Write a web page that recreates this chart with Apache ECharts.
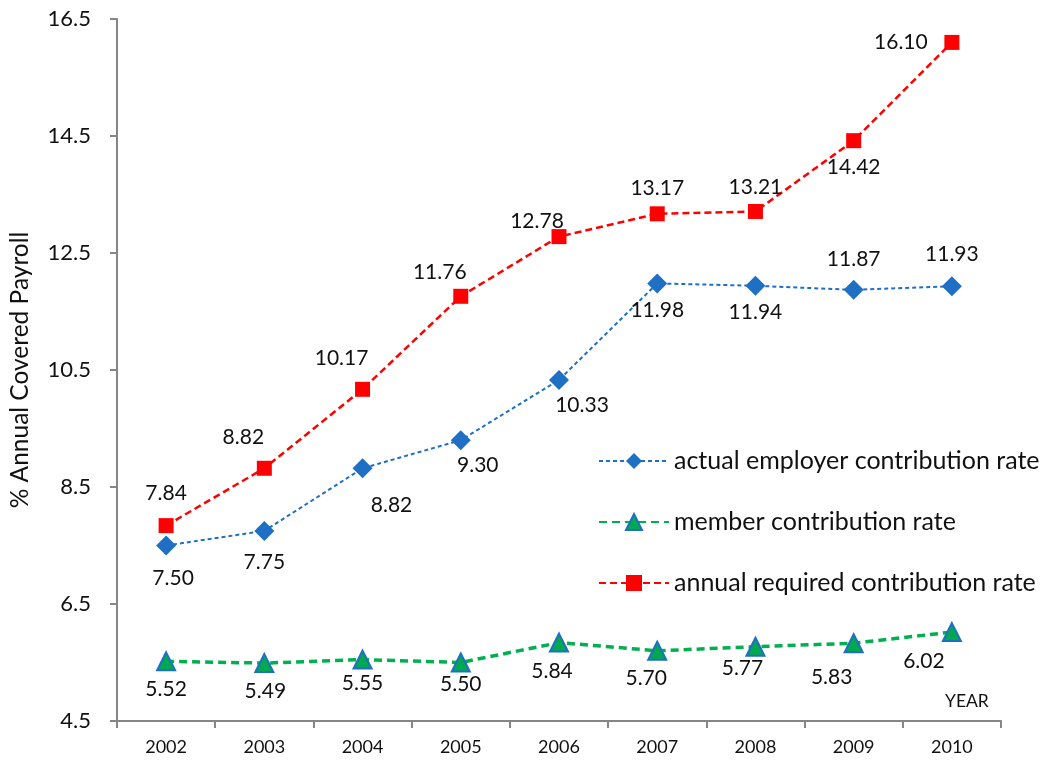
<!DOCTYPE html>
<html>
<head>
<meta charset="utf-8">
<script src="https://cdn.jsdelivr.net/npm/echarts@6/dist/echarts.min.js"></script>
<style>html,body{margin:0;padding:0;background:#fff}#c{width:1047px;height:763px}</style>
</head>
<body>
<div id="c"></div>
<script>
const years = ['2002','2003','2004','2005','2006','2007','2008','2009','2010'];
const employerRate = [7.50, 7.75, 8.82, 9.30, 10.33, 11.98, 11.94, 11.87, 11.93];
const memberRate = [5.52, 5.49, 5.55, 5.50, 5.84, 5.70, 5.77, 5.83, 6.02];
const requiredRate = [7.84, 8.82, 10.17, 11.76, 12.78, 13.17, 13.21, 14.42, 16.10];
const seriesNames = ['actual employer contribution rate', 'member contribution rate', 'annual required contribution rate'];
const yTicks = { min: 4.5, max: 16.5, step: 2 };

// label placement offsets (style only)
const employerLabelOffsets = [[7,33],[0,31],[29,37],[17,25],[23,25],[0,27],[0,26],[0,-31],[0,-32]];
const memberLabelOffsets = [[0,28],[1,28],[0,24],[0,22],[-7,29],[-11,27],[-13,22],[-22,34],[-28,29]];
const requiredLabelOffsets = [[0,-32],[-21,-31],[-21,-31],[-21,-24],[-22,-15],[0,-26],[0,-24],[0,27],[-51,0]];

const FONT = 'Lato, "Open Sans", sans-serif';
function build(values, offsets) {
  return values.map((v, i) => ({
    value: v,
    label: { offset: offsets[i] }
  }));
}
const labelBase = {
  show: true, position: 'inside', color: '#111', fontSize: 21, fontFamily: FONT,
  formatter: p => Number(p.value).toFixed(2)
};

const chart = echarts.init(document.getElementById('c'), null, { renderer: 'canvas' });
chart.setOption({
  animation: false,
  backgroundColor: '#fff',
  grid: { left: 117, right: 46, top: 19, bottom: 42, containLabel: false },
  legend: {
    orient: 'vertical', left: 598, top: 448, padding: 0,
    itemWidth: 70, itemHeight: 20, itemGap: 35, itemTextGap: 9,
    textStyle: { fontSize: 25, lineHeight: 26, fontFamily: FONT, color: '#111' },
    data: seriesNames
  },
  graphic: [{
    type: 'text', left: 945, top: 692,
    style: { text: 'YEAR', fontSize: 17.5, fontFamily: FONT, fill: '#111' }
  }],
  xAxis: {
    type: 'category', data: years, boundaryGap: true,
    axisLine: { lineStyle: { color: '#868686', width: 2 } },
    axisTick: { show: true, length: 7, alignWithLabel: false, lineStyle: { color: '#868686', width: 2 } },
    axisLabel: { fontSize: 18, fontFamily: FONT, color: '#111', margin: 17 },
    splitLine: { show: false }
  },
  yAxis: {
    type: 'value', min: yTicks.min, max: yTicks.max, interval: yTicks.step,
    name: '% Annual Covered Payroll', nameLocation: 'middle', nameGap: 84, nameRotate: 90,
    nameTextStyle: { fontSize: 24.5, fontFamily: FONT, color: '#111' },
    axisLine: { show: true, lineStyle: { color: '#868686', width: 2 } },
    axisTick: { show: true, length: 7, lineStyle: { color: '#868686', width: 2 } },
    axisLabel: { fontSize: 22, fontFamily: FONT, color: '#111', margin: 26, formatter: v => v.toFixed(1) },
    splitLine: { show: false }
  },
  series: [
    {
      name: seriesNames[0], type: 'line', data: build(employerRate, employerLabelOffsets),
      symbol: 'diamond', symbolSize: 20,
      itemStyle: { color: '#1F6FC5' },
      lineStyle: { color: '#1F6FC5', width: 2, type: [4, 3] },
      label: labelBase, z: 3
    },
    {
      name: seriesNames[1], type: 'line', data: build(memberRate, memberLabelOffsets),
      symbol: 'triangle', symbolSize: 18,
      itemStyle: { color: '#00A84F', borderColor: '#1F6FC5', borderWidth: 2 },
      lineStyle: { color: '#00B050', width: 3.5, type: [8, 5] },
      label: labelBase, z: 2
    },
    {
      name: seriesNames[2], type: 'line', data: build(requiredRate, requiredLabelOffsets),
      symbol: 'rect', symbolSize: 15,
      itemStyle: { color: '#FF0000' },
      lineStyle: { color: '#FF0000', width: 2.5, type: [7, 4] },
      label: labelBase, z: 4
    }
  ]
});
</script>
</body>
</html>
